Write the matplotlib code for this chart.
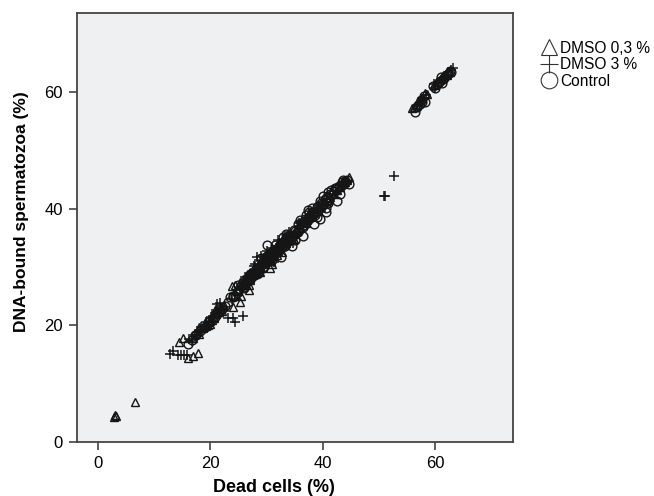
import matplotlib
matplotlib.use("Agg")
import matplotlib.pyplot as plt
from matplotlib.lines import Line2D

plt.rcParams['font.family'] = ['Liberation Sans', 'DejaVu Sans']

# Control (circles)
ctrl_x = [16.0, 16.8, 17.5, 18.2, 19.0, 19.8, 20.5, 21.2, 22.0, 23.2, 24.0, 24.8, 25.5, 26.2,
          26.8, 27.5, 28.0, 28.6, 29.1, 29.6, 30.0, 30.2, 30.7, 31.0, 31.5, 32.0, 32.4, 33.0,
          33.5, 34.0, 34.6, 35.2, 35.8, 36.4, 37.0, 37.4, 37.8, 38.3, 38.8, 39.2, 39.5, 39.9,
          40.3, 40.6, 41.0, 41.5, 42.0, 42.6, 43.2, 43.8, 44.3, 44.6, 29.3, 30.9, 32.8, 36.9,
          38.0, 40.9, 42.3,
          17.2, 18.8, 19.5, 20.9, 21.8, 22.6, 23.5, 24.4, 25.1, 25.9, 26.5, 27.1, 27.8, 28.3,
          28.9, 29.4, 29.9, 30.4, 30.8, 31.3, 31.7, 32.2, 32.7, 33.2, 33.7, 34.3, 34.9, 35.5,
          36.1, 36.7, 37.3, 37.6, 38.1, 38.6, 39.0, 39.4, 39.7, 40.1, 40.5, 40.9, 41.3, 41.8,
          42.2, 42.8, 43.4, 44.0, 36.3, 35.0, 33.9, 27.3,
          31.5, 32.5, 33.5, 34.5, 35.5, 36.5, 37.5, 38.5, 39.5, 40.5, 41.5, 42.5, 43.5, 30.0,
          29.0, 28.0, 27.0, 26.0, 25.0, 24.0, 33.0, 35.0, 37.0, 39.0, 41.0, 43.0, 38.0, 40.0,
          36.0, 34.0,
          56.4, 56.8, 57.2, 57.7, 58.2, 59.6, 60.3, 60.8, 61.3, 61.8, 62.3, 62.8,
          56.9, 57.5, 58.0, 60.0, 60.6, 61.1, 61.6, 62.1, 62.6, 61.0]
ctrl_y = [16.8, 17.5, 18.4, 19.0, 19.8, 20.6, 21.3, 22.0, 22.8, 24.0, 25.1, 25.6, 26.8, 27.0,
          28.0, 28.4, 29.2, 29.6, 30.5, 31.0, 33.8, 31.5, 31.8, 32.6, 32.3, 33.2, 33.8, 34.1,
          34.8, 35.3, 35.0, 35.8, 36.4, 36.9, 37.8, 39.8, 38.7, 39.2, 39.6, 40.5, 38.2, 40.8,
          41.5, 40.1, 42.0, 42.3, 43.0, 43.4, 44.0, 44.3, 44.9, 44.2, 29.8, 31.2, 33.4, 38.2,
          39.3, 41.0, 43.6,
          18.3, 19.5, 20.6, 21.5, 22.9, 23.3, 24.8, 25.0, 26.3, 26.6, 27.9, 27.8, 29.0, 28.9,
          30.2, 30.1, 31.8, 31.2, 32.3, 32.0, 33.1, 32.9, 34.0, 33.6, 35.1, 34.9, 36.3, 36.0,
          37.5, 37.2, 38.4, 38.2, 39.5, 38.9, 40.3, 39.9, 41.0, 40.6, 41.9, 41.3, 42.6, 42.5,
          43.5, 43.9, 44.6, 44.8, 37.5, 36.2, 34.6, 28.6,
          33.8, 31.8, 35.6, 33.6, 37.4, 35.4, 39.4, 37.4, 41.3, 39.5, 43.2, 41.4, 45.0, 31.6,
          31.5, 28.9, 28.8, 26.5, 26.9, 24.8, 35.2, 34.6, 39.0, 38.6, 42.9, 42.6, 40.2, 42.2,
          38.1, 34.5,
          56.6, 57.4, 58.0, 58.4, 58.3, 61.0, 61.4, 62.0, 62.2, 62.8, 63.1, 63.4,
          57.9, 58.6, 59.3, 60.7, 61.7, 61.6, 62.5, 62.9, 63.6, 62.6]

# DMSO 0,3 % (triangles)
d03_x = [2.8, 3.0, 3.2, 6.6,
         14.4, 15.1, 16.0, 16.9, 17.8,
         17.0, 18.0, 19.2, 20.3, 21.0, 22.0,
         23.8, 24.3, 24.0, 25.3, 25.4, 26.9,
         25.0, 26.0, 27.0, 27.6, 28.3, 29.0, 29.8, 30.6, 31.2, 32.1, 33.0, 34.0, 35.0,
         36.0, 37.2, 38.5, 39.6, 40.8, 42.0, 43.0, 44.0, 44.6, 30.3, 31.8, 28.7,
         18.6, 19.7, 20.7, 21.5, 17.5, 24.7, 25.6, 26.4, 27.3, 28.0, 28.6, 29.3, 29.7, 30.1,
         30.9, 31.5, 32.4, 33.4, 34.4, 35.4, 36.5, 37.7, 39.0, 40.2, 41.3, 42.5, 43.5, 44.3,
         26.7, 29.5, 31.0, 33.8,
         18.0, 19.5, 20.8, 25.8, 26.8, 27.8, 28.8, 29.8, 30.8, 31.8, 32.8, 33.8, 34.8, 25.2,
         27.0, 29.0, 31.0, 33.0, 35.8, 37.0, 41.0, 43.4, 44.0, 20.0, 22.5,
         55.9, 56.5, 57.3, 58.2, 60.5, 61.5,
         57.0, 57.7, 58.6, 60.0, 61.0, 62.0, 56.2, 62.6]
d03_y = [4.3, 4.6, 4.4, 6.8,
         17.1, 17.8, 14.4, 14.8, 15.3,
         17.8, 18.6, 19.9, 21.0, 21.9, 22.5,
         26.8, 26.9, 23.2, 24.0, 25.0, 26.1,
         25.9, 26.9, 27.8, 28.8, 29.0, 29.9, 30.6, 29.8, 31.9, 32.8, 33.6, 34.8, 35.7,
         36.8, 38.0, 39.3, 40.4, 41.6, 42.6, 43.8, 44.6, 45.4, 31.0, 32.0, 29.4,
         19.5, 20.6, 21.2, 22.3, 18.7, 26.0, 27.3, 27.7, 28.9, 29.7, 29.8, 30.9, 31.4, 31.2,
         32.2, 32.6, 33.6, 34.2, 35.4, 36.3, 37.3, 38.6, 39.7, 41.1, 42.0, 43.3, 44.4, 44.9,
         28.8, 31.8, 30.5, 35.1,
         19.8, 20.0, 22.6, 28.0, 27.0, 30.0, 29.1, 32.0, 31.1, 33.8, 32.6, 35.6, 34.9, 27.5,
         29.2, 31.0, 33.2, 35.0, 37.4, 37.6, 41.5, 44.6, 45.0, 20.3, 23.5,
         57.3, 57.8, 58.7, 59.9, 61.8, 62.8,
         58.5, 59.0, 59.7, 61.2, 62.3, 63.0, 57.5, 63.4]

# DMSO 3 % (plus)
d3_x = [12.8, 13.3, 14.2, 14.8, 15.3, 15.8,
        16.8, 17.6, 18.5, 19.4, 20.2, 20.8, 21.5, 21.2, 21.7, 22.4,
        23.1, 24.0, 24.4, 25.8, 23.8, 24.5,
        25.8, 26.5, 27.2, 27.9, 28.3, 28.8, 29.4, 30.0, 30.5, 31.0, 31.4, 32.0, 32.6,
        33.2, 34.7, 35.5, 36.5, 38.0, 29.8, 30.8, 27.0,
        17.2, 18.0, 18.9, 19.8, 20.5, 21.0, 22.0, 16.3, 25.2, 26.0, 26.8, 27.5, 28.1, 28.6,
        29.1, 29.6, 30.2, 30.7, 31.2, 31.7, 32.3, 32.9, 33.6, 34.2, 35.0, 36.0, 37.2, 39.0,
        29.0, 31.4, 33.0, 27.8,
        26.2, 27.0, 28.0, 29.0, 30.0, 31.0, 32.0, 33.0, 34.0, 26.6, 27.6, 28.6, 29.6, 30.6,
        31.6, 32.6, 33.6, 35.8, 18.3, 19.2, 20.1, 21.0, 20.6, 21.9, 37.8,
        50.8, 51.1, 52.7,
        56.8, 57.6, 60.6, 61.5, 62.3, 63.2,
        57.2, 58.0, 58.4, 60.0, 61.0, 61.9, 62.7, 59.8]
d3_y = [15.1, 15.6, 14.9, 14.9, 14.9, 14.9,
        17.3, 18.1, 19.1, 19.6, 20.6, 21.2, 22.0, 23.7, 23.8, 22.5,
        21.3, 21.3, 20.6, 21.6, 24.5, 25.4,
        26.5, 27.6, 28.2, 28.5, 31.7, 29.8, 30.2, 31.1, 31.0, 31.6, 32.2, 32.5, 33.5,
        33.6, 34.1, 35.8, 36.8, 38.8, 30.9, 32.3, 28.9,
        18.4, 19.2, 19.8, 20.8, 21.6, 22.3, 23.0, 17.6, 26.2, 27.3, 28.1, 29.0, 29.4, 30.3,
        30.7, 31.5, 31.9, 32.5, 32.8, 33.3, 33.6, 34.0, 34.8, 35.4, 36.1, 37.0, 38.0, 40.0,
        31.9, 30.8, 34.6, 30.2,
        28.3, 28.9, 30.6, 31.2, 32.8, 33.3, 34.6, 34.9, 36.0, 27.0, 28.0, 29.4, 30.1, 31.4,
        32.1, 33.0, 33.9, 37.5, 19.8, 20.5, 21.5, 22.6, 20.7, 22.8, 39.2,
        42.2, 42.2, 45.6,
        57.6, 58.5, 61.6, 62.5, 63.4, 64.1,
        58.1, 58.9, 59.6, 60.8, 61.9, 63.0, 63.8, 61.5]

fig = plt.figure(figsize=(6.54, 4.96), dpi=100)
ax = fig.add_axes([0.1177, 0.1089, 0.6667, 0.8649])
ax.set_facecolor('#eef0f2')

ax.plot(ctrl_x, ctrl_y, 'o', ms=6.3, mfc='none', mec='#151515', mew=1.0, linestyle='none')
ax.plot(d03_x, d03_y, '^', ms=5.2, mfc='none', mec='#151515', mew=1.0, linestyle='none')
ax.plot(d3_x, d3_y, '+', ms=6.8, mec='#151515', mew=1.1, linestyle='none')

ax.set_xlim(-3.7, 73.8)
ax.set_ylim(0, 73.6)
ax.set_xticks([0, 20, 40, 60])
ax.set_yticks([0, 20, 40, 60])
ax.tick_params(direction='out', length=6, width=1.2, color='#444444', labelsize=12, pad=4)
for s in ax.spines.values():
    s.set_color('#444444')
    s.set_linewidth(1.3)

ax.set_xlabel('Dead cells (%)', fontsize=13, fontweight='bold', va='center', ha='center')
ax.xaxis.set_label_coords(0.452, -0.107)
ax.set_ylabel('DNA-bound spermatozoa (%)', fontsize=12.5, fontweight='bold', va='center', ha='center')
ax.yaxis.set_label_coords(-0.127, 0.537)

handles = [
    Line2D([], [], marker='^', ms=11, mfc='none', mec='#333333', mew=0.8, linestyle='none'),
    Line2D([], [], marker='+', ms=13, mec='#333333', mew=0.8, linestyle='none'),
    Line2D([], [], marker='o', ms=12, mfc='none', mec='#333333', mew=0.8, linestyle='none'),
]
fig.legend(handles, ['DMSO 0,3 %', 'DMSO 3 %', 'Control'], loc='upper left',
           bbox_to_anchor=(0.818, 0.934), frameon=False, fontsize=11.2,
           handlelength=0.8, handletextpad=0.3, labelspacing=0.1, borderpad=0)

fig.savefig('out.png', dpi=100)
